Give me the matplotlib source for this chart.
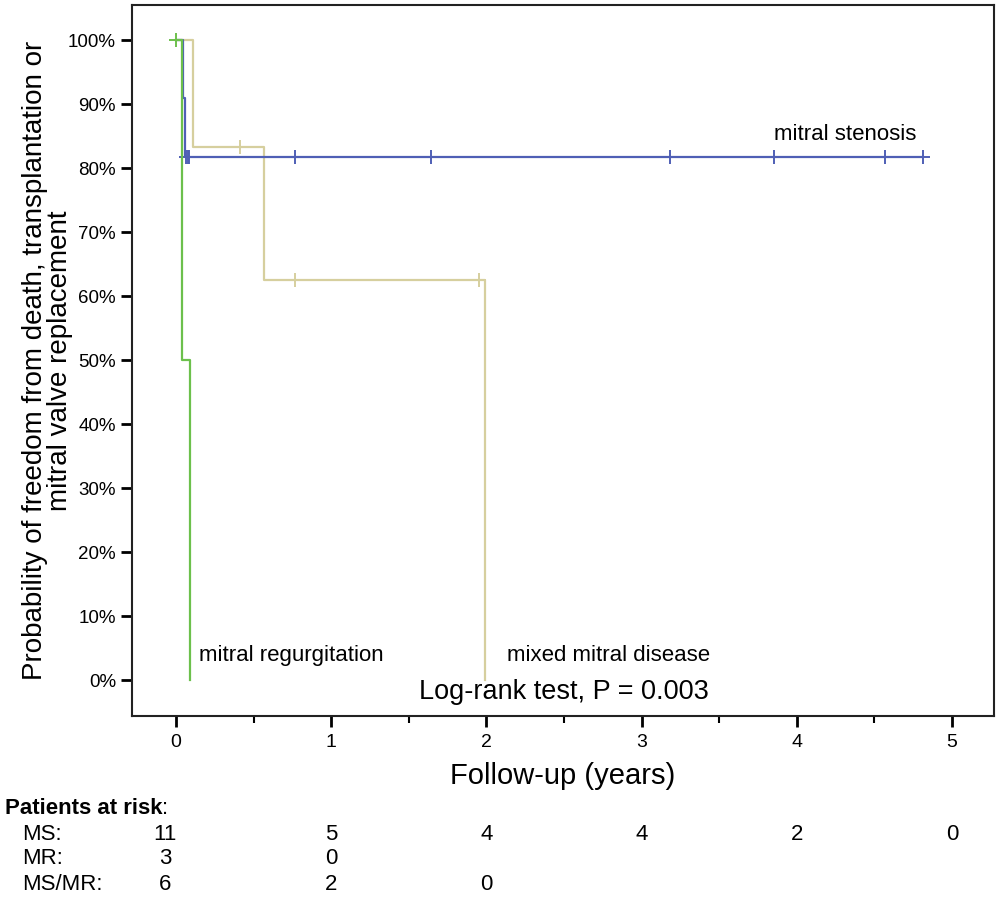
import matplotlib
matplotlib.use("Agg")
import matplotlib.pyplot as plt
from matplotlib.ticker import FuncFormatter, MultipleLocator

# Kaplan-Meier steps (years, survival %)
ms_t = [0, 0.047, 0.058, 4.81]
ms_s = [100, 90.9, 81.8, 81.8]
ms_cens_t = [0.065, 0.075, 0.085, 0.77, 1.64, 3.18, 3.85, 4.57, 4.81]

mr_t = [0, 0.04, 0.09]
mr_s = [100, 50, 0]
mr_cens_t = [0.0]

mm_t = [0, 0.11, 0.565, 1.99]
mm_s = [100, 83.3, 62.5, 0]
mm_cens_t = [0.41, 0.77, 1.95]

risk_groups = ["MS:", "MR:", "MS/MR:"]
risk_times = [0, 1, 2, 3, 4, 5]
risk_counts = [
    [11, 5, 4, 4, 2, 0],
    [3, 0],
    [6, 2, 0],
]

c_ms = "#4f5fb5"
c_mr = "#6cc04c"
c_mm = "#d6cf9e"

plt.rcParams["font.family"] = ["Liberation Sans", "DejaVu Sans"]


def surv_at(t_steps, s_steps, t):
    val = s_steps[0]
    for tt, ss in zip(t_steps, s_steps):
        if tt <= t:
            val = ss
    return val


def km(ax, t, s, cens, color):
    ax.step(t, s, where="post", color=color, lw=1.6)
    ys = [surv_at(t, s, c) for c in cens]
    ax.plot(cens, ys, "+", color=color, ms=10, mew=1.4)


fig = plt.figure(figsize=(10, 9), dpi=100)
ax = fig.add_axes([0.132, 0.2044, 0.862, 0.79])

km(ax, mm_t, mm_s, mm_cens_t, c_mm)
km(ax, ms_t, ms_s, ms_cens_t, c_ms)
km(ax, mr_t, mr_s, mr_cens_t, c_mr)

ax.set_xlim(-0.283, 5.27)
ax.set_ylim(-5.6, 105.5)
ax.yaxis.set_major_locator(MultipleLocator(10))
ax.yaxis.set_major_formatter(FuncFormatter(lambda v, p: f"{int(round(v))}%"))
ax.xaxis.set_major_locator(MultipleLocator(1))
ax.xaxis.set_minor_locator(MultipleLocator(0.5))
ax.tick_params(axis="both", which="major", length=8, width=2, labelsize=14)
ax.tick_params(axis="y", labelsize=13.5)
ax.tick_params(axis="x", which="minor", length=5, width=1.5)
ax.tick_params(axis="x", pad=5)
for sp in ax.spines.values():
    sp.set_linewidth(1.5)
    sp.set_color("#222222")

ax.text(3.85, 83.6, "mitral stenosis", fontsize=16, va="bottom")
ax.text(0.15, 3.8, "mitral regurgitation", fontsize=16, va="center")
ax.text(2.13, 3.8, "mixed mitral disease", fontsize=16, va="center")
ax.text(2.5, -1.8, "Log-rank test, P = 0.003", fontsize=19.5, ha="center", va="center")

ax.set_ylabel("Probability of freedom from death, transplantation or\nmitral valve replacement",
              fontsize=20, linespacing=0.95)
ax.yaxis.set_label_coords(-0.069, 0.5)
ax.set_xlabel("Follow-up (years)", fontsize=21, labelpad=8)

# risk table under the axis
head = fig.text(0.005, 1 - 808 / 900, "Patients at risk", fontsize=16, fontweight="bold",
                va="center")
ax.annotate(":", xy=(1, 0.5), xycoords=head, fontsize=16, va="center", ha="left",
            annotation_clip=False)
row_y = [1 - 834 / 900, 1 - 859 / 900, 1 - 885 / 900]
for g, counts, y in zip(risk_groups, risk_counts, row_y):
    fig.text(0.022, y, g, fontsize=16, va="center")
    for t, n in zip(risk_times, counts):
        xd = t - 0.07 if t == 0 else t
        xf = fig.transFigure.inverted().transform(ax.transData.transform((xd, 0)))[0]
        fig.text(xf, y, str(n), fontsize=16, ha="center", va="center")

fig.savefig("out.png", dpi=100)
